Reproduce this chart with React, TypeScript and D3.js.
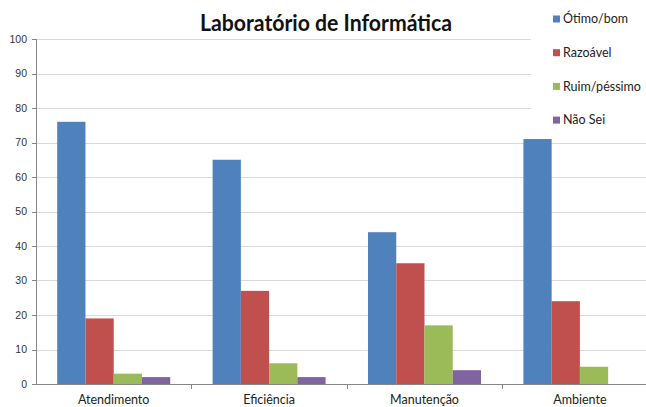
import * as d3 from "d3";

const categories = ["Atendimento", "Eficiência", "Manutenção", "Ambiente"];
const seriesNames = ["Ótimo/bom", "Razoável", "Ruim/péssimo", "Não Sei"];
const otimoBom = [76, 65, 44, 71];
const razoavel = [19, 27, 35, 24];
const ruimPessimo = [3, 6, 17, 5];
const naoSei = [2, 2, 4, 0];
const yTicks = [0, 10, 20, 30, 40, 50, 60, 70, 80, 90, 100];
const colors = ["#4F81BD", "#C0504D", "#9BBB59", "#8064A2"];

const seriesValues = [otimoBom, razoavel, ruimPessimo, naoSei];

const width = 646;
const height = 407;
const font = "Lato, 'Open Sans', sans-serif";

export default function App() {
  // área do gráfico (o lado direito passa da borda, como no original)
  const left = 36;
  const right = left + 4 * 155.4;
  const top = 39;
  const bottom = 384;

  const x = d3
    .scaleBand<string>()
    .domain(categories)
    .range([left, right])
    .paddingInner(0.273)
    .paddingOuter(0.1365);

  const x1 = d3
    .scaleBand<string>()
    .domain(seriesNames)
    .range([0, x.bandwidth()]);

  const y = d3.scaleLinear().domain([0, 100]).range([bottom, top]);

  const step = x.step();

  return (
    <svg
      width={width}
      height={height}
      style={{ position: "absolute", left: 0, top: 0, background: "#fff" }}
    >
      <rect x={0} y={0} width={width} height={height} fill="#fff" />

      {/* linhas de grade */}
      {yTicks
        .filter((t) => t > 0)
        .map((t) => (
          <line
            key={t}
            x1={left}
            x2={width}
            y1={Math.round(y(t)) + 0.5}
            y2={Math.round(y(t)) + 0.5}
            stroke="#D9D9D9"
            strokeWidth={1}
          />
        ))}

      {/* rótulos do eixo y */}
      {yTicks.map((t) => (
        <g key={t}>
          <line
            x1={left - 4}
            x2={left}
            y1={Math.round(y(t)) + 0.5}
            y2={Math.round(y(t)) + 0.5}
            stroke="#868686"
          />
          <text
            x={27}
            y={y(t)}
            dy="0.35em"
            textAnchor="end"
            fontFamily="'Liberation Sans', Arial, sans-serif"
            fontSize={10.5}
            fill="#333"
          >
            {t}
          </text>
        </g>
      ))}

      {/* barras */}
      {categories.map((c, i) => (
        <g key={c} transform={`translate(${x(c)},0)`}>
          {seriesNames.map((s, j) => {
            const v = seriesValues[j][i];
            if (!v) return null;
            return (
              <rect
                key={s}
                x={x1(s)}
                y={y(v)}
                width={x1.bandwidth()}
                height={bottom - y(v)}
                fill={colors[j]}
              />
            );
          })}
        </g>
      ))}

      {/* eixos */}
      <line x1={left + 0.5} x2={left + 0.5} y1={top} y2={bottom} stroke="#868686" />
      <line x1={left} x2={width} y1={bottom + 0.5} y2={bottom + 0.5} stroke="#868686" />
      {categories.map((c, i) => (
        <line
          key={c}
          x1={Math.round(left + step * (i + 1)) + 0.5}
          x2={Math.round(left + step * (i + 1)) + 0.5}
          y1={bottom}
          y2={bottom + 5}
          stroke="#868686"
        />
      ))}
      {categories.map((c) => (
        <text
          key={c}
          x={x(c)! + x.bandwidth() / 2}
          y={404}
          textAnchor="middle"
          fontFamily={font}
          fontSize={12.5}
          fill="#222"
        >
          {c}
        </text>
      ))}

      {/* título */}
      <text
        x={326}
        y={31}
        textAnchor="middle"
        fontFamily={font}
        fontWeight="bold"
        fontSize={22}
        textLength={252}
        lengthAdjust="spacingAndGlyphs"
        fill="#111"
      >
        Laboratório de Informática
      </text>

      {/* legenda */}
      <rect x={531} y={0} width={width - 531} height={135} fill="#fff" />
      {seriesNames.map((s, j) => (
        <g key={s} transform={`translate(553,${19 + j * 33.7})`}>
          <rect x={0} y={-3.5} width={7} height={7} fill={colors[j]} />
          <text
            x={10}
            y={0}
            dy="0.35em"
            fontFamily={font}
            fontSize={12.5}
            fill="#222"
          >
            {s}
          </text>
        </g>
      ))}
    </svg>
  );
}
